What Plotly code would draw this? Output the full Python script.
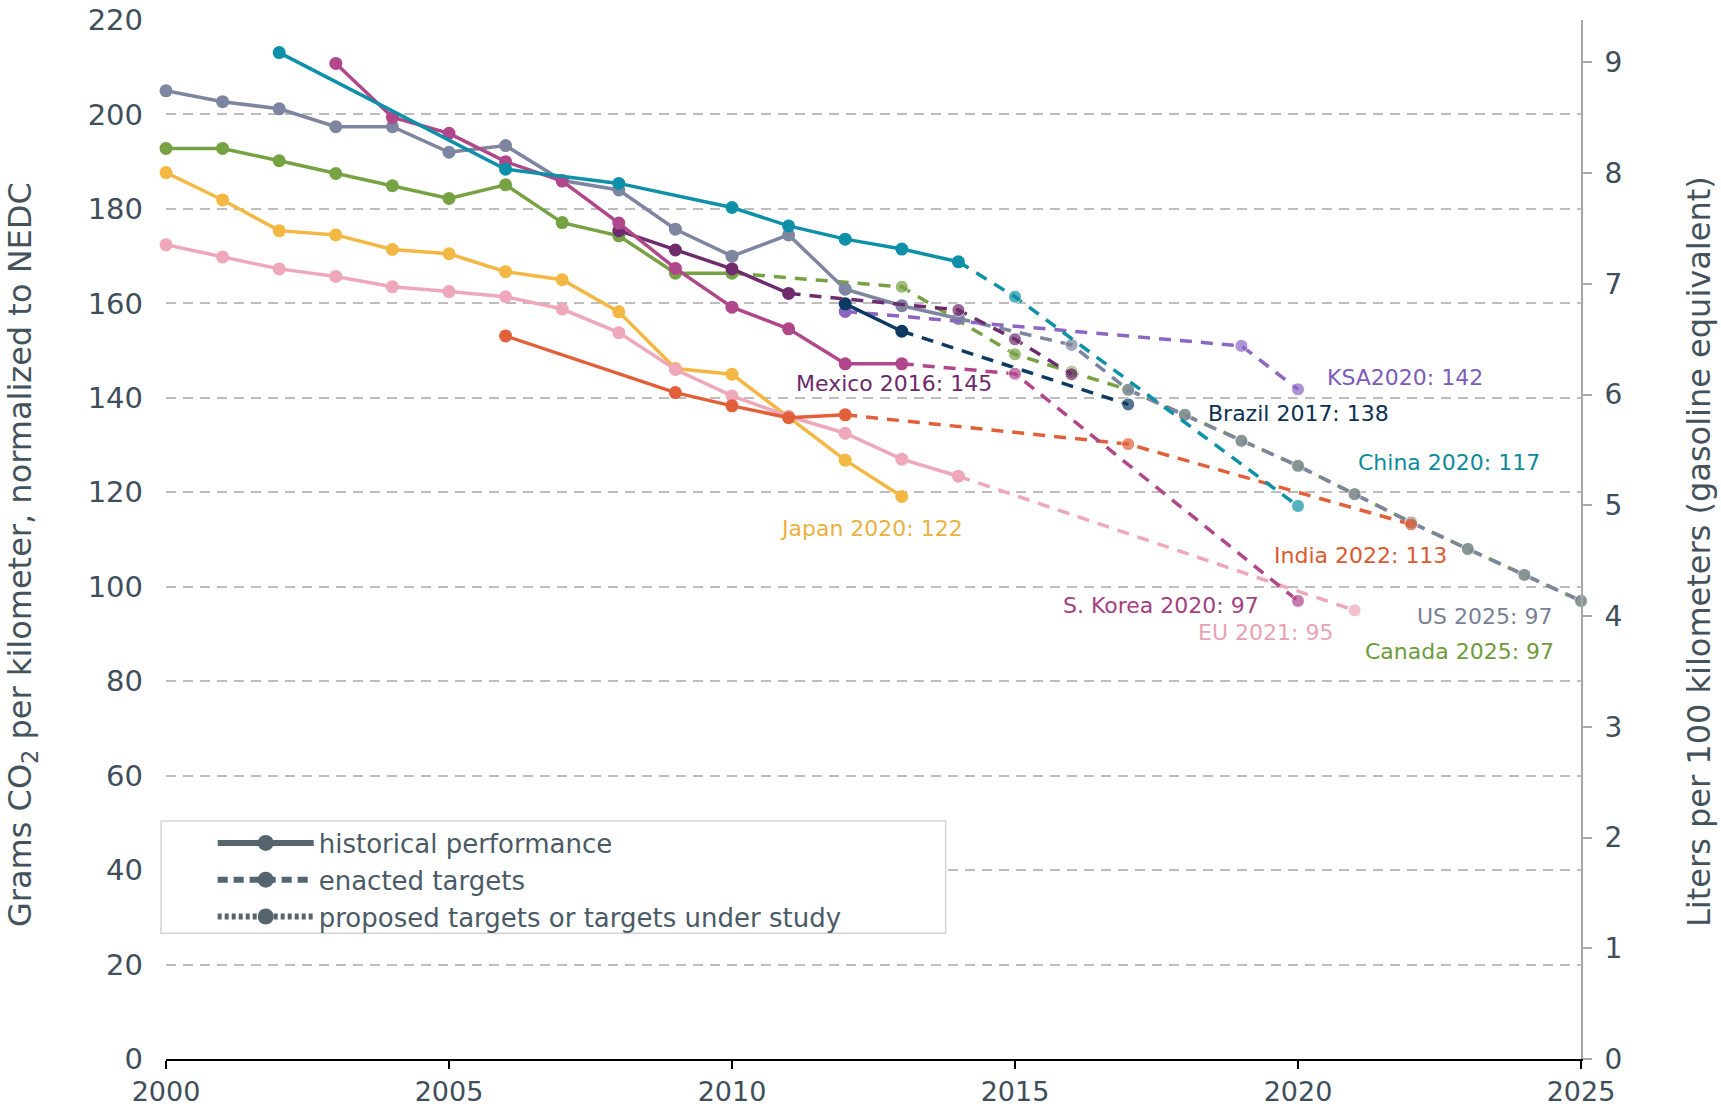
import plotly.graph_objects as go

# ---------------- data ----------------
us_hist_years = [2000, 2001, 2002, 2003, 2004, 2005, 2006, 2007, 2008, 2009, 2010, 2011, 2012, 2013, 2014]
us_hist_vals = [205.0, 202.7, 201.2, 197.4, 197.4, 192.0, 193.4, 186.0, 184.0, 175.7, 170.0, 174.5, 163.0, 159.5, 156.8]
us_tgt_years = [2016, 2017, 2018, 2019, 2020, 2021, 2022, 2023, 2024, 2025]
us_tgt_vals = [151.2, 141.7, 136.4, 130.9, 125.6, 119.6, 113.6, 108.0, 102.5, 97.0]

ca_hist_years = [2000, 2001, 2002, 2003, 2004, 2005, 2006, 2007, 2008, 2009, 2010]
ca_hist_vals = [192.8, 192.8, 190.2, 187.5, 184.9, 182.2, 185.1, 177.1, 174.3, 166.4, 166.4]
ca_tgt_years = [2013, 2015, 2016, 2017, 2018, 2019, 2020, 2021, 2022, 2023, 2024, 2025]
ca_tgt_vals = [163.5, 149.2, 145.5, 141.7, 136.4, 130.9, 125.6, 119.6, 113.6, 108.0, 102.5, 97.0]

jp_hist_years = [2000, 2001, 2002, 2003, 2004, 2005, 2006, 2007, 2008, 2009, 2010, 2011, 2012, 2013]
jp_hist_vals = [187.7, 181.9, 175.4, 174.5, 171.4, 170.5, 166.7, 165.0, 158.2, 146.2, 145.0, 136.0, 126.8, 119.1]

eu_hist_years = [2000, 2001, 2002, 2003, 2004, 2005, 2006, 2007, 2008, 2009, 2010, 2011, 2012, 2013, 2014]
eu_hist_vals = [172.4, 169.8, 167.3, 165.7, 163.5, 162.5, 161.4, 158.8, 153.8, 146.0, 140.4, 136.1, 132.5, 127.0, 123.4]
eu_tgt_years = [2021]
eu_tgt_vals = [95.0]

in_hist_years = [2006, 2009, 2010, 2011, 2012]
in_hist_vals = [153.1, 141.1, 138.3, 135.8, 136.4]
in_tgt_years = [2017, 2022]
in_tgt_vals = [130.2, 113.2]

cn_hist_years = [2002, 2006, 2008, 2010, 2011, 2012, 2013, 2014]
cn_hist_vals = [213.1, 188.4, 185.4, 180.3, 176.4, 173.6, 171.5, 168.8]
cn_tgt_years = [2015, 2020]
cn_tgt_vals = [161.4, 117.1]

kr_hist_years = [2003, 2004, 2005, 2006, 2007, 2008, 2009, 2010, 2011, 2012, 2013]
kr_hist_vals = [210.8, 199.4, 196.0, 190.0, 185.9, 177.0, 167.4, 159.2, 154.6, 147.2, 147.2]
kr_tgt_years = [2015, 2020]
kr_tgt_vals = [145.1, 97.0]

mx_hist_years = [2008, 2009, 2010, 2011]
mx_hist_vals = [175.4, 171.3, 167.3, 162.1]
mx_tgt_years = [2014, 2015, 2016]
mx_tgt_vals = [158.6, 152.4, 145.0]

br_hist_years = [2012, 2013]
br_hist_vals = [159.9, 154.1]
br_tgt_years = [2017]
br_tgt_vals = [138.6]

ksa_hist_years = [2012]
ksa_hist_vals = [158.3]
ksa_tgt_years = [2019, 2020]
ksa_tgt_vals = [151.0, 141.8]

x_ticks = [2000, 2005, 2010, 2015, 2020, 2025]
y_ticks = [0, 20, 40, 60, 80, 100, 120, 140, 160, 180, 200, 220]
y2_ticks = [0, 1, 2, 3, 4, 5, 6, 7, 8, 9]
G_PER_L = 23.45

label_texts = ["Mexico 2016: 145", "KSA2020: 142", "Brazil 2017: 138", "China 2020: 117",
               "India 2022: 113", "Japan 2020: 122", "S. Korea 2020: 97", "EU 2021: 95",
               "US 2025: 97", "Canada 2025: 97"]
label_x = [2012.86, 2021.89, 2020.0, 2022.67, 2021.10, 2012.47, 2017.58, 2019.42, 2023.30, 2022.86]
label_y = [143.1, 144.4, 136.6, 126.2, 106.7, 112.4, 96.1, 90.4, 93.6, 86.2]
label_colors = ["#6b2a6b", "#7d5bb8", "#0c2f52", "#0e8a9c", "#d95a30", "#ecb13f",
                "#a34080", "#e9a2b3", "#7a7f94", "#6f9a3c"]

FONT = "DejaVu Sans"
DASH = "12px,9px"
TXT = "#3e4e5a"

series = [
    # name, color, hist years, hist vals, target years, target vals
    ("Canada", "#76a243", ca_hist_years, ca_hist_vals, ca_tgt_years, ca_tgt_vals),
    ("US", "#7e85a0", us_hist_years, us_hist_vals, us_tgt_years, us_tgt_vals),
    ("Japan", "#f3b843", jp_hist_years, jp_hist_vals, [], []),
    ("EU", "#eea8b9", eu_hist_years, eu_hist_vals, eu_tgt_years, eu_tgt_vals),
    ("India", "#e1603a", in_hist_years, in_hist_vals, in_tgt_years, in_tgt_vals),
    ("KSA", "#8b66c2", ksa_hist_years, ksa_hist_vals, ksa_tgt_years, ksa_tgt_vals),
    ("Brazil", "#0c3a63", br_hist_years, br_hist_vals, br_tgt_years, br_tgt_vals),
    ("Mexico", "#6e2c6d", mx_hist_years, mx_hist_vals, mx_tgt_years, mx_tgt_vals),
    ("S. Korea", "#b0478a", kr_hist_years, kr_hist_vals, kr_tgt_years, kr_tgt_vals),
    ("China", "#0e91a8", cn_hist_years, cn_hist_vals, cn_tgt_years, cn_tgt_vals),
]

fig = go.Figure()

for name, color, hy, hv, ty, tv in series:
    if ty:
        xs = [hy[-1]] + ty
        ys = [hv[-1]] + tv
        fig.add_trace(go.Scatter(
            x=xs, y=ys, mode="lines+markers", showlegend=False, cliponaxis=False,
            line=dict(color=color, width=3.5, dash=DASH),
            marker=dict(color=color, size=[0] + [13] * len(ty)),
            hoverinfo="skip"))
    fig.add_trace(go.Scatter(
        x=hy, y=hv, mode="lines+markers", showlegend=False, cliponaxis=False,
        line=dict(color=color, width=3.5),
        marker=dict(color=color, size=13), name=name))

# legend entries
LEG = "#56646e"
for lname, ldash in [("historical performance", "solid"),
                     ("enacted targets", "10px,6px"),
                     ("proposed targets or targets under study", "4px,3px")]:
    fig.add_trace(go.Scatter(x=[None], y=[None], mode="lines+markers", name=lname,
                             line=dict(color=LEG, width=6, dash=ldash),
                             marker=dict(color=LEG, size=16)))

# invisible trace to activate the right axis
fig.add_trace(go.Scatter(x=[None], y=[None], yaxis="y2", showlegend=False))

for t, xx, yy, c in zip(label_texts, label_x, label_y, label_colors):
    fig.add_annotation(x=xx, y=yy, text=t, showarrow=False,
                       font=dict(family=FONT, size=22, color=c),
                       xanchor="center", yanchor="middle")

# axis titles
fig.add_annotation(x=-0.1018, y=0.486, xref="paper", yref="paper", showarrow=False,
                   text="Grams CO<sub>2</sub> per kilometer, normalized to NEDC",
                   textangle=-90, xanchor="center", yanchor="middle",
                   font=dict(family=FONT, size=32, color="#44525c"))
fig.add_annotation(x=1.0834, y=0.488, xref="paper", yref="paper", showarrow=False,
                   text="Liters per 100 kilometers (gasoline equivalent)",
                   textangle=-90, xanchor="center", yanchor="middle",
                   font=dict(family=FONT, size=32, color="#44525c"))

# legend frame
fig.add_shape(type="rect", xref="paper", yref="paper",
              x0=-0.0035, x1=0.551, y0=0.121, y1=0.229,
              line=dict(color="#d3d3d3", width=1.5), fillcolor="white", layer="above")

fig.update_layout(
    width=1721, height=1110,
    margin=dict(l=166, r=140, t=20, b=51),
    paper_bgcolor="white", plot_bgcolor="white",
    font=dict(family=FONT, color=TXT),
    showlegend=True,
    legend=dict(x=0.033, y=0.2305, xanchor="left", yanchor="top",
                bgcolor="rgba(0,0,0,0)", borderwidth=0,
                font=dict(family=FONT, size=26, color="#4a5a66"),
                itemwidth=96, tracegroupgap=0),
    xaxis=dict(range=[2000, 2025], tickvals=x_ticks, showgrid=False, zeroline=False,
               automargin=False,
               showline=True, linecolor="black", linewidth=2,
               ticks="outside", ticklen=8, tickcolor="black", tickwidth=1.5,
               ticklabelstandoff=0,
               tickfont=dict(family=FONT, size=27, color=TXT)),
    yaxis=dict(range=[0, 220], tickvals=y_ticks, showgrid=True, gridcolor="#bdbdbd",
               automargin=False,
               gridwidth=2, griddash="10px,7px", zeroline=False, showline=False,
               ticks="", ticklabelstandoff=22,
               tickfont=dict(family=FONT, size=29, color=TXT)),
    yaxis2=dict(range=[0, 220 / G_PER_L], tickvals=y2_ticks, overlaying="y", side="right",
                automargin=False,
                showgrid=False, zeroline=False, showline=True, linecolor="#a8a8a8",
                linewidth=2, ticks="outside", ticklen=9, tickcolor="#a8a8a8", tickwidth=2,
                ticklabelstandoff=7,
                tickfont=dict(family=FONT, size=28, color=TXT)),
)

fig.write_html("out.html", config={"displayModeBar": False},
               post_script="document.body.style.margin='0px';")
